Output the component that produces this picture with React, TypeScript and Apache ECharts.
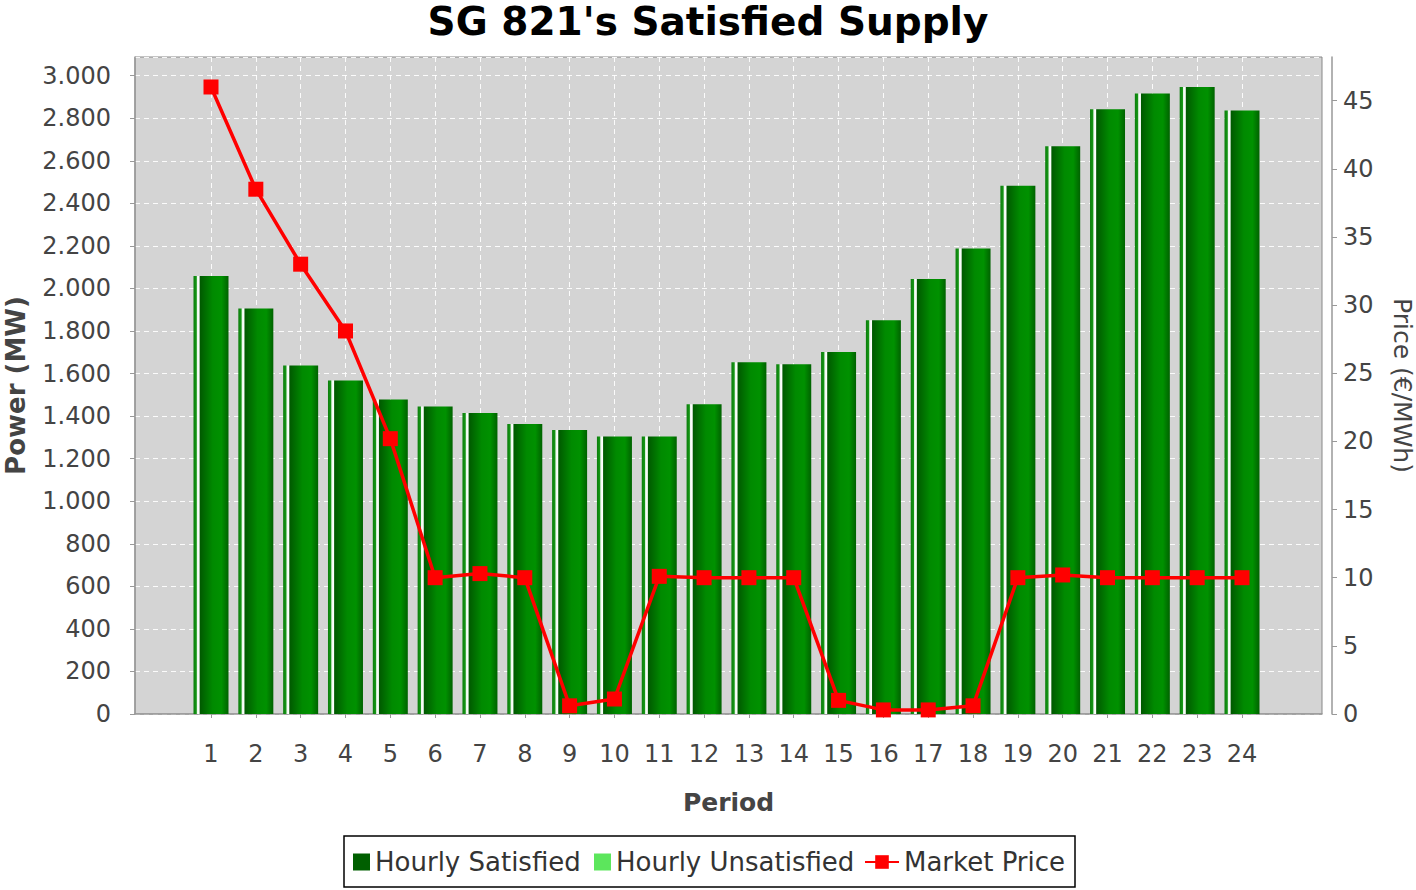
import React, { useEffect, useRef } from "react";
import * as echarts from "echarts";

const categories = ["1","2","3","4","5","6","7","8","9","10","11","12","13","14","15","16","17","18","19","20","21","22","23","24"];
const satisfied = [2059, 1906, 1638, 1567, 1478, 1445, 1415, 1363, 1335, 1304, 1304, 1456, 1653, 1644, 1702, 1851, 2044, 2188, 2483, 2669, 2843, 2917, 2947, 2837];
const unsatisfied = [0,0,0,0,0,0,0,0,0,0,0,0,0,0,0,0,0,0,0,0,0,0,0,0];
const marketPrice = [46, 38.5, 33, 28.1, 20.2, 10, 10.3, 10, 0.6, 1.1, 10.1, 10, 10, 10, 1.0, 0.3, 0.3, 0.6, 10, 10.2, 10, 10, 10, 10];

const FONT = "DejaVu Sans";
const TICK = "#444";

function thousands(v: number) {
  return String(v).replace(/\B(?=(\d{3})+(?!\d))/g, ".");
}

export default function App() {
  const ref = useRef<HTMLDivElement>(null);
  useEffect(() => {
    document.body.style.margin = "0";
    const chart = echarts.init(ref.current!, null, { renderer: "svg" });
    const barGrad = {
      type: "linear", x: 0, y: 0, x2: 1, y2: 0,
      colorStops: [
        { offset: 0, color: "#0b7d0b" },
        { offset: 0.08, color: "#159615" },
        { offset: 0.11, color: "#eef8ee" },
        { offset: 0.16, color: "#ffffff" },
        { offset: 0.19, color: "#005a00" },
        { offset: 0.55, color: "#008a00" },
        { offset: 0.8, color: "#009100" },
        { offset: 1, color: "#006200" },
      ],
    };
    const dashed = { color: "rgba(255,255,255,0.9)", type: [5, 4] as any, width: 1 };
    const legendText = { fontFamily: FONT, fontSize: 26, color: "#333", lineHeight: 30 };
    chart.setOption({
      animation: false,
      backgroundColor: "#fff",
      title: {
        text: "SG 821's Satisfied Supply",
        left: "center",
        top: -6,
        textStyle: { fontFamily: FONT, fontSize: 39, fontWeight: "bold", color: "#000", lineHeight: 44 },
      },
      legend: [
        {
          left: 353, top: 847, padding: 0, itemWidth: 17, itemHeight: 17, selectedMode: false,
          textStyle: legendText,
          data: [{ name: "Hourly Satisfied", icon: "rect", itemStyle: { color: "#005f00" } }],
        },
        {
          left: 594, top: 847, padding: 0, itemWidth: 17, itemHeight: 17, selectedMode: false,
          textStyle: legendText,
          data: [{ name: "Hourly Unsatisfied", icon: "rect", itemStyle: { color: "#5ce65c" } }],
        },
        {
          left: 864, top: 847, padding: 0, itemWidth: 34, itemHeight: 17, selectedMode: false,
          textStyle: legendText,
          data: [{ name: "Market Price" }],
        },
      ],
      graphic: [
        {
          type: "rect",
          shape: { x: 344, y: 836, width: 731, height: 51 },
          style: { fill: "none", stroke: "#000", lineWidth: 1.5 },
          silent: true,
        },
      ],
      grid: [
        { left: 135, top: 57, width: 1187, height: 657, show: true, backgroundColor: "#d4d4d4", borderColor: "#888", borderWidth: 1, outerBoundsMode: "none", containLabel: false },
        { left: 211, top: 57, width: 1031, height: 657, outerBoundsMode: "none", containLabel: false },
      ],
      xAxis: [
        {
          gridIndex: 0, type: "value", min: 0, max: 1, offset: 12,
          axisLine: { show: true, lineStyle: { color: "#999", width: 1.5 } },
          axisTick: { show: false }, axisLabel: { show: false }, splitLine: { show: false },
          name: "Period", nameLocation: "middle", nameGap: 64,
          nameTextStyle: { fontFamily: FONT, fontSize: 25, fontWeight: "bold", color: TICK },
        },
        {
          gridIndex: 1, type: "category", data: categories, boundaryGap: false, offset: 12,
          axisLine: { show: false },
          axisTick: { show: true, length: 4, lineStyle: { color: "#999" } },
          axisLabel: { fontFamily: FONT, fontSize: 24, color: TICK, margin: 16, interval: 0 },
          splitLine: { show: true, lineStyle: dashed },
        },
      ],
      yAxis: [
        {
          gridIndex: 0, type: "value", min: 0, max: 3088, interval: 200, position: "left", offset: 10,
          axisLine: { show: true, lineStyle: { color: "#999", width: 1.5 } },
          axisTick: { show: true, length: 5, lineStyle: { color: "#999" } },
          axisLabel: { fontFamily: FONT, fontSize: 24, color: TICK, margin: 14, showMaxLabel: false, formatter: (v: number) => thousands(v) },
          splitLine: { show: true, lineStyle: dashed },
          name: "Power (MW)", nameLocation: "middle", nameGap: 95, nameRotate: 90,
          nameTextStyle: { fontFamily: FONT, fontSize: 26, fontWeight: "bold", color: TICK, lineHeight: 28 },
        },
        {
          gridIndex: 0, type: "value", min: 0, max: 48.2, interval: 5, position: "right", offset: 10,
          axisLine: { show: true, lineStyle: { color: "#999", width: 1.5 } },
          axisTick: { show: true, length: 5, lineStyle: { color: "#999" } },
          axisLabel: { fontFamily: FONT, fontSize: 24, color: TICK, margin: 11, showMaxLabel: false },
          splitLine: { show: false },
          name: "Price (€/MWh)", nameLocation: "middle", nameGap: 58, nameRotate: -90,
          nameTextStyle: { fontFamily: FONT, fontSize: 25, color: TICK },
        },
        { gridIndex: 1, type: "value", min: 0, max: 3088, show: false, splitLine: { show: false } },
        { gridIndex: 1, type: "value", min: 0, max: 48.2, show: false, splitLine: { show: false } },
      ],
      series: [
        {
          name: "Hourly Satisfied", type: "bar", xAxisIndex: 1, yAxisIndex: 2, stack: "supply",
          data: satisfied, barWidth: 35, clip: false,
          itemStyle: { color: barGrad as any },
        },
        {
          name: "Hourly Unsatisfied", type: "bar", xAxisIndex: 1, yAxisIndex: 2, stack: "supply",
          data: unsatisfied, barWidth: 35, clip: false,
          itemStyle: { color: "#5ce65c" },
        },
        {
          name: "Market Price", type: "line", xAxisIndex: 1, yAxisIndex: 3,
          data: marketPrice, clip: false, z: 5,
          symbol: "rect", symbolSize: 15, showAllSymbol: true,
          lineStyle: { color: "#ff0000", width: 3.5 },
          itemStyle: { color: "#ff0000" },
        },
      ],
    });
    return () => chart.dispose();
  }, []);
  return <div ref={ref} style={{ width: 1416, height: 890 }} />;
}
